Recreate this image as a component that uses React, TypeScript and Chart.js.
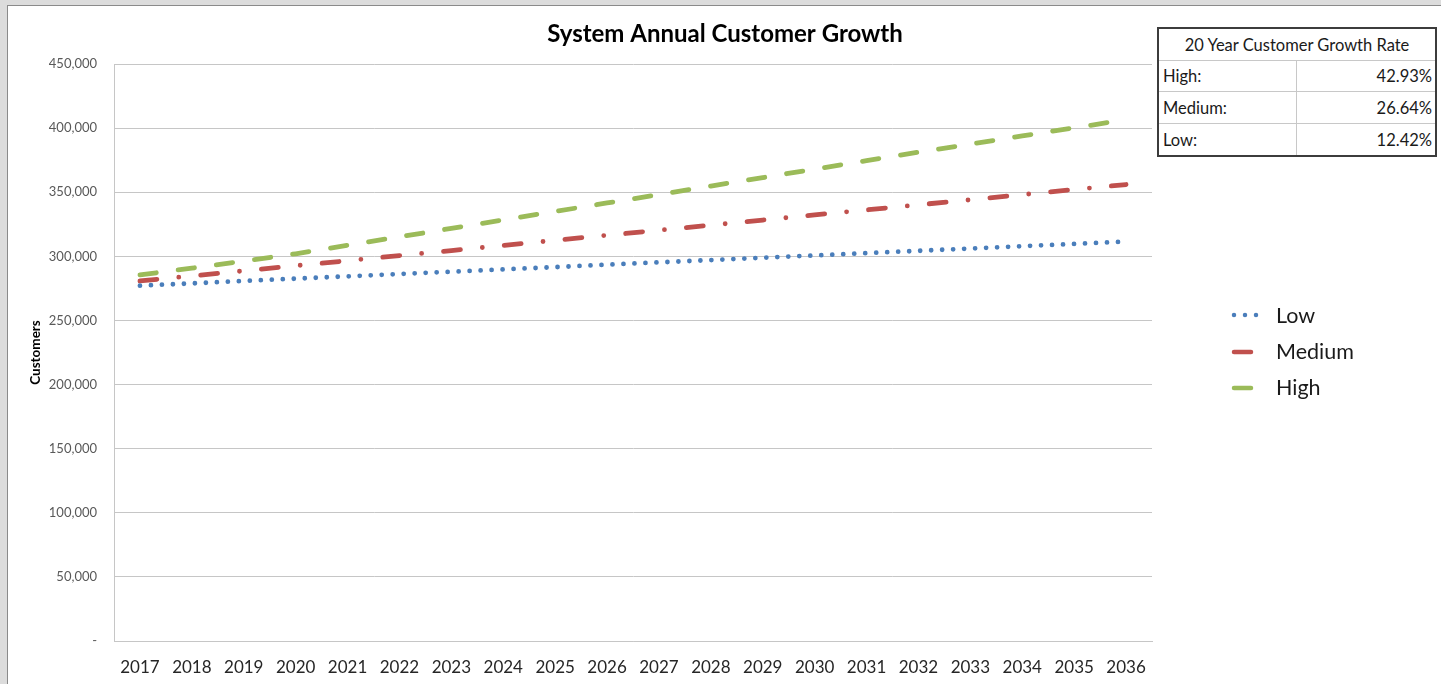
import React, { useEffect, useRef } from "react";
import { Chart, registerables } from "chart.js";

Chart.register(...registerables);

const years = ["2017","2018","2019","2020","2021","2022","2023","2024","2025","2026","2027","2028","2029","2030","2031","2032","2033","2034","2035","2036"];
const lowValues = [277100, 278900, 280800, 282600, 284400, 286200, 288000, 289800, 291600, 293500, 295300, 297100, 298900, 300700, 302500, 304300, 306100, 307900, 309700, 311500];
const mediumValues = [280800, 284700, 288700, 292700, 296600, 300600, 304500, 308500, 312500, 316400, 320400, 324300, 328300, 332300, 336200, 340200, 344100, 348100, 352100, 356000];
const highValues = [285500, 290800, 296300, 302000, 308600, 315200, 321800, 328400, 335000, 341600, 348200, 354800, 361400, 368000, 374600, 381200, 387500, 393900, 400200, 406500];
const seriesNames = ["Low", "Medium", "High"];
const growthRows = [["High:", "42.93%"], ["Medium:", "26.64%"], ["Low:", "12.42%"]];
const tableTitle = "20 Year Customer Growth Rate";
const chartTitle = "System Annual Customer Growth";
const yAxisTitle = "Customers";

const FONT = "Lato, 'Open Sans', sans-serif";

const styles = [
  { color: "#4a7ebb", dash: [0, 11] },
  { color: "#c0504d", dash: [17, 22, 0, 22] },
  { color: "#9bbb59", dash: [16.5, 22] },
];

const titlePlugin = {
  id: "customTitle",
  afterDraw(chart: any) {
    const ctx = chart.ctx;
    ctx.save();
    ctx.font = `bold 24px ${FONT}`;
    ctx.fillStyle = "#000";
    ctx.textAlign = "center";
    ctx.textBaseline = "middle";
    ctx.fillText(chartTitle, 725, 34);
    ctx.restore();
  },
};

const legendPlugin = {
  id: "customLegend",
  afterDraw(chart: any) {
    const ctx = chart.ctx;
    const ys = [316, 352, 388];
    chart.data.datasets.forEach((ds: any, i: number) => {
      const y = ys[i];
      ctx.save();
      ctx.strokeStyle = ds.borderColor;
      ctx.lineWidth = 4.5;
      ctx.lineCap = "round";
      ctx.beginPath();
      if (i === 0) {
        ctx.setLineDash([0, 11]);
        ctx.moveTo(1234, y - 1);
        ctx.lineTo(1267, y - 1);
      } else {
        ctx.setLineDash([]);
        ctx.moveTo(1234, y);
        ctx.lineTo(1251, y);
      }
      ctx.stroke();
      ctx.restore();
      ctx.save();
      ctx.font = `21.5px ${FONT}`;
      ctx.fillStyle = "#1a1a1a";
      ctx.textAlign = "left";
      ctx.textBaseline = "middle";
      ctx.fillText(ds.label, 1276, y);
      ctx.restore();
    });
  },
};

export default function App() {
  const ref = useRef<HTMLCanvasElement | null>(null);

  useEffect(() => {
    if (!ref.current) return;
    const values = [lowValues, mediumValues, highValues];
    const chart = new Chart(ref.current, {
      type: "line",
      data: {
        labels: years,
        datasets: values.map((v, i) => ({
          label: seriesNames[i],
          data: v,
          borderColor: styles[i].color,
          backgroundColor: styles[i].color,
          borderWidth: 4.8,
          borderDash: styles[i].dash,
          borderCapStyle: "round" as const,
          pointRadius: 0,
          tension: 0,
          fill: false,
        })),
      },
      options: {
        responsive: false,
        animation: false,
        layout: { padding: { left: 0, right: 289, top: 64, bottom: 0 } },
        plugins: {
          legend: { display: false },
          title: { display: false },
          tooltip: { enabled: false },
        },
        scales: {
          x: {
            type: "category",
            offset: true,
            grid: { display: false, drawTicks: false },
            border: { display: true, color: "#c6c6c6", width: 1 },
            ticks: {
              font: { family: FONT, size: 17 },
              color: "#262626",
              padding: 16,
              maxRotation: 0,
              autoSkip: false,
            },
            afterFit(scale: any) {
              scale.height = 43;
            },
          },
          y: {
            min: 0,
            max: 450000,
            grid: { color: "#c6c6c6", lineWidth: 1, drawTicks: false },
            border: { display: true, color: "#c6c6c6", width: 1 },
            ticks: {
              stepSize: 50000,
              font: { family: FONT, size: 13 },
              color: "#595959",
              padding: 17,
              callback: (v: any) => (Number(v) === 0 ? "-" : Number(v).toLocaleString("en-US")),
            },
            title: {
              display: true,
              text: yAxisTitle,
              font: { family: FONT, size: 13.5, weight: "bold" },
              color: "#000",
              padding: { top: 28, bottom: 0 },
            },
            afterFit(scale: any) {
              scale.width = 114;
            },
          },
        },
      },
      plugins: [titlePlugin, legendPlugin],
    });
    return () => chart.destroy();
  }, []);

  const cellText: React.CSSProperties = {
    position: "absolute",
    fontFamily: FONT,
    fontSize: 16.5,
    color: "#1a1a1a",
    whiteSpace: "nowrap",
    lineHeight: "1",
  };
  const rowTops = [60.7, 91.7, 124];
  const rowH = [31, 32.3, 32.7];

  return (
    <div style={{ position: "fixed", left: 0, top: 0, width: 1441, height: 684, background: "#dcdcdc", overflow: "hidden" }}>
      <div style={{ position: "absolute", left: 7, top: 5, width: 1434, height: 679, background: "#fff", borderLeft: "1px solid #8a8a8a", borderTop: "1px solid #8a8a8a" }} />
      <canvas ref={ref} width={1441} height={684} style={{ position: "absolute", left: 0, top: 0, width: 1441, height: 684 }} />
      <div style={{ position: "absolute", left: 1157, top: 27, width: 276, height: 126, border: "2px solid #3c3c3c", background: "#fff" }}>
        <div style={{ ...cellText, left: 0, width: 276, top: 0, height: 33, display: "flex", alignItems: "center", justifyContent: "center" }}>{tableTitle}</div>
        {growthRows.map((r, i) => {
          const top = rowTops[i] - 29;
          return (
            <React.Fragment key={r[0]}>
              <div style={{ position: "absolute", left: 0, width: 276, top: top - 1, height: 0, borderTop: "1px solid #c8c8c8" }} />
              <div style={{ ...cellText, left: 4, top, height: rowH[i], display: "flex", alignItems: "center" }}>{r[0]}</div>
              <div style={{ ...cellText, right: 3, top, height: rowH[i], display: "flex", alignItems: "center", justifyContent: "flex-end" }}>{r[1]}</div>
            </React.Fragment>
          );
        })}
        <div style={{ position: "absolute", left: 137, top: 31, width: 0, height: 95, borderLeft: "1px solid #c8c8c8" }} />
      </div>
    </div>
  );
}
